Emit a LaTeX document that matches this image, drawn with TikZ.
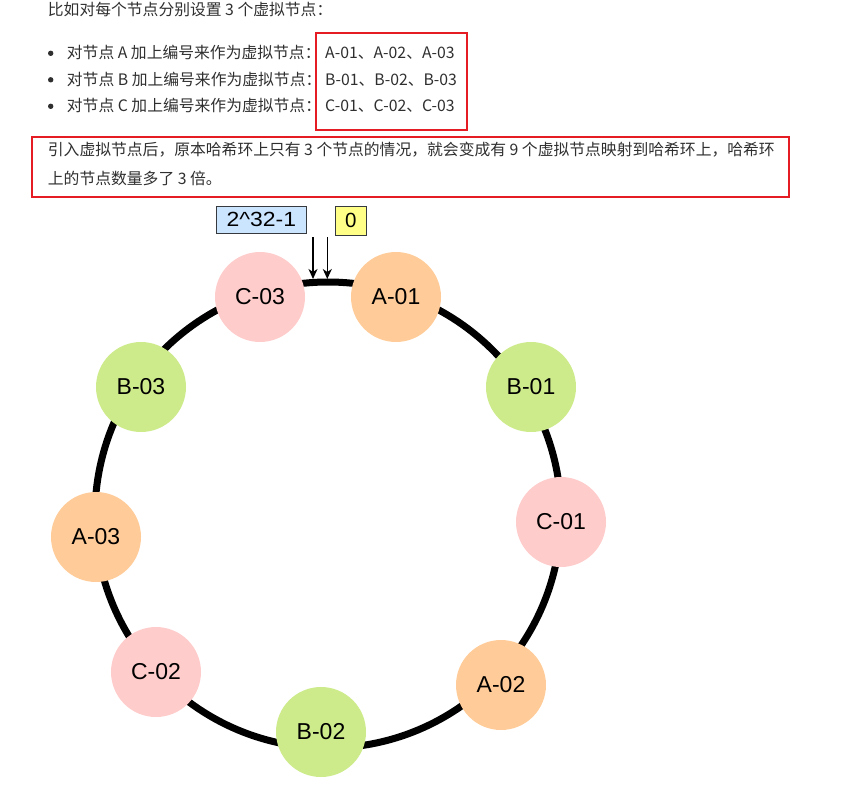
\documentclass[tikz,border=0pt]{standalone}
\usepackage{fontspec}
\setmainfont{Liberation Sans}
\newfontfamily\cjk{Noto Sans CJK SC}
\usetikzlibrary{arrows.meta}

\definecolor{naranja}{HTML}{FFCC99}
\definecolor{verde}{HTML}{CDEB8B}
\definecolor{rosa}{HTML}{FFCCCC}
\definecolor{azul}{HTML}{CCE5FF}
\definecolor{amarillo}{HTML}{FFFF88}
\definecolor{borde}{HTML}{36393D}
\definecolor{rojo}{HTML}{E51C23}
\definecolor{gristexto}{HTML}{2F2F2F}

\begin{document}
\begin{tikzpicture}[x=1pt,y=-1pt,
		nodo/.style={circle, minimum size=90pt, inner sep=0pt, font=\fontsize{23}{23}\selectfont},
		etiqueta/.style={draw=borde, inner sep=0pt, font=\fontsize{20.5}{20.5}\selectfont},
		texto/.style={anchor=base west, inner sep=0pt, text=gristexto, font=\cjk\fontsize{15.8}{15.8}\selectfont},
		marco/.style={draw=rojo, line width=2pt},
		flecha/.style={line width=1.3pt, -{Stealth[length=10pt, width=9pt, inset=3pt]}}]

		\useasboundingbox (0,0) rectangle (856,789);

		\node[texto] (linea0) at (47.7,15.6) {比如对每个节点分别设置 3 个虚拟节点：};

		\fill[gristexto] (50.7,53.3) circle (2.7pt); %Punto
		\fill[gristexto] (50.7,79.8) circle (2.7pt); %Punto
		\fill[gristexto] (50.7,106.3) circle (2.7pt); %Punto
		\node[texto] (lineaA) at (66.7,59) {对节点 A 加上编号来作为虚拟节点：};
		\node[texto] (lineaB) at (66.7,85.5) {对节点 B 加上编号来作为虚拟节点：};
		\node[texto] (lineaC) at (66.7,112) {对节点 C 加上编号来作为虚拟节点：};
		\node[texto] (virtA) at (325,59) {A-01、A-02、A-03};
		\node[texto] (virtB) at (325,85.5) {B-01、B-02、B-03};
		\node[texto] (virtC) at (325,112) {C-01、C-02、C-03};
		\draw[marco] (315.7,32.7) rectangle (467.3,130);

		\node[texto] (nota1) at (47.7,155.5) {引入虚拟节点后，原本哈希环上只有 3 个节点的情况，就会变成有 9 个虚拟节点映射到哈希环上，哈希环};
		\node[texto] (nota2) at (47.7,184) {上的节点数量多了 3 倍。};
		\draw[marco] (32.3,136.7) rectangle (788.5,196.7);

		\draw[line width=7pt] (328,515) circle (233pt); %Anillo

		\node[etiqueta, fill=azul, minimum width=89.3pt, minimum height=26.7pt] (maximo) at (261.3,219.7) {\scalebox{1.12}[1]{2\textasciicircum 32-1}};
		\node[etiqueta, fill=amarillo, minimum width=31.7pt, minimum height=29pt] (cero) at (350.8,220.8) {0};

		\coordinate (ini1) at (313,237);
		\coordinate (fin1) at (313,279);
		\coordinate (ini2) at (327.3,237);
		\coordinate (fin2) at (327.3,279);
		\draw[flecha] (ini1) -- (fin1);
		\draw[flecha] (ini2) -- (fin2);

		\node[nodo, fill=rosa] (C03) at (260,297) {C-03};
		\node[nodo, fill=naranja] (A01) at (396,297) {A-01};
		\node[nodo, fill=verde] (B01) at (531,387) {B-01};
		\node[nodo, fill=rosa] (C01) at (561,522) {C-01};
		\node[nodo, fill=naranja] (A02) at (501,685) {A-02};
		\node[nodo, fill=verde] (B02) at (321,732) {B-02};
		\node[nodo, fill=rosa] (C02) at (156,672) {C-02};
		\node[nodo, fill=naranja] (A03) at (96,537) {A-03};
		\node[nodo, fill=verde] (B03) at (141,387) {B-03};

	\end{tikzpicture}
\end{document}
